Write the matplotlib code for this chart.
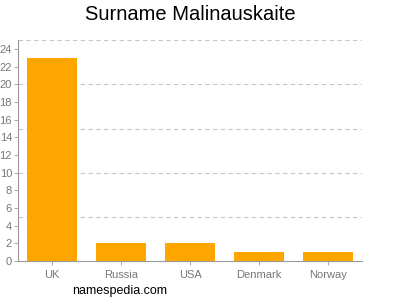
import matplotlib
matplotlib.use('Agg')
import matplotlib.pyplot as plt

plt.rcParams['font.family'] = ['Liberation Sans', 'DejaVu Sans']

countries = ['UK', 'Russia', 'USA', 'Denmark', 'Norway']
counts = [23, 2, 2, 1, 1]
yticks = list(range(0, 25, 2))
grid_levels = [5, 10, 15, 20, 25]

fig = plt.figure(figsize=(4, 3), dpi=100)
ax = fig.add_axes([0.044, 0.13, 0.862, 0.736])

ax.bar(range(len(countries)), counts, width=0.72, color='#ffa500', zorder=2)

for g in grid_levels:
    ax.axhline(g, color='#c8c8c8', linestyle=(0, (4, 3)), linewidth=0.8, zorder=1)

ax.set_xlim(-0.5, len(countries) - 0.5)
ax.set_ylim(0, 25)
ax.set_yticks(yticks)
ax.set_xticks(range(len(countries)))
ax.set_xticklabels(countries)

for s in ['top', 'right']:
    ax.spines[s].set_visible(False)
for s in ['left', 'bottom']:
    ax.spines[s].set_color('#999999')
    ax.spines[s].set_linewidth(0.8)

ax.tick_params(axis='both', colors='#999999', labelcolor='#777777', labelsize=8, length=3, width=0.6)
ax.tick_params(axis='y', pad=1)

fig.text(0.475, 0.95, 'Surname Malinauskaite', ha='center', va='center', fontsize=14.5)
fig.text(0.3, 0.03, 'namespedia.com', ha='center', va='center', fontsize=9)

fig.savefig('out.png', dpi=100)
